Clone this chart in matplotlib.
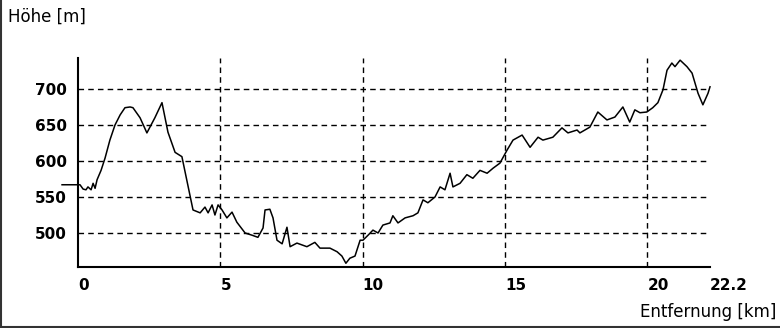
import matplotlib
matplotlib.use("Agg")
import matplotlib.pyplot as plt
from matplotlib.lines import Line2D

# elevation profile: distance [km], height [m]
dist_km = [-0.56, 0.07, 0.18, 0.28, 0.35, 0.46, 0.53, 0.60, 0.67, 0.81, 0.95,
           1.12, 1.30, 1.48, 1.65, 1.83, 1.93, 2.18, 2.42, 2.70, 2.95, 3.16,
           3.41, 3.65, 4.04, 4.29, 4.46, 4.57, 4.71, 4.81, 4.92, 5.06, 5.23,
           5.41, 5.58, 5.87, 6.11, 6.32, 6.50, 6.57, 6.74, 6.85, 6.99, 7.17,
           7.34, 7.45, 7.69, 8.04, 8.32, 8.50, 8.85, 9.10, 9.27, 9.41, 9.55,
           9.73, 9.91, 10.01, 10.19, 10.36, 10.54, 10.71, 10.96, 11.06, 11.24,
           11.49, 11.77, 11.94, 12.12, 12.29, 12.54, 12.72, 12.89, 13.07, 13.17,
           13.42, 13.66, 13.87, 14.12, 14.37, 14.58, 14.82, 15.07, 15.28, 15.60,
           15.88, 16.16, 16.33, 16.68, 17.00, 17.21, 17.53, 17.63, 17.98, 18.26,
           18.58, 18.86, 19.14, 19.38, 19.56, 19.74, 19.98, 20.19, 20.37, 20.55,
           20.69, 20.86, 20.97, 21.15, 21.39, 21.57, 21.78, 21.95, 22.13, 22.2]
height_m = [567, 567, 561, 560, 564, 560, 569, 562, 574, 587, 604,
            629, 650, 664, 674, 675, 674, 660, 639, 660, 681, 640,
            612, 606, 532, 528, 536, 528, 539, 525, 539, 532, 521,
            529, 515, 500, 497, 494, 507, 532, 533, 521, 490, 485,
            508, 481, 486, 481, 487, 479, 479, 474, 468, 458, 465,
            468, 490, 490, 497, 504, 500, 511, 514, 524, 514,
            521, 524, 528, 546, 542, 550, 564, 560, 583, 564,
            569, 581, 576, 587, 583, 590, 597, 615, 629, 636,
            619, 633, 629, 633, 646, 639, 643, 639, 647, 668,
            657, 661, 675, 654, 671, 667, 668, 674, 681, 699,
            726, 736, 731, 740, 731, 722, 694, 678, 694, 703]

x_ticks = [0, 5, 10, 15, 20, 22.2]
x_labels = ["0", "5", "10", "15", "20", "22.2"]
y_ticks = [500, 550, 600, 650, 700]

fig = plt.figure(figsize=(7.8, 3.28), dpi=100)
ax = fig.add_axes([78 / 780, 1 - 267 / 328, 632 / 780, 209 / 328])

ax.set_xlim(0, 22.2)
ax.set_ylim(452.8, 743)

for v in [5, 10, 15, 20]:
    ax.axvline(v, color="black", lw=1, ls=(0, (4, 3)), zorder=1)
for h in y_ticks:
    ax.axhline(h, color="black", lw=1, ls=(0, (4, 3)), zorder=1)

ax.plot(dist_km, height_m, color="black", lw=1.1, clip_on=False, zorder=3)

ax.spines["top"].set_visible(False)
ax.spines["right"].set_visible(False)
ax.spines["left"].set_linewidth(1.5)
ax.spines["bottom"].set_linewidth(1.5)

ax.set_xticks(x_ticks)
ax.set_xticklabels(x_labels, fontweight="bold", fontsize=11, ha="left")
ax.set_yticks(y_ticks)
ax.set_yticklabels([str(v) for v in y_ticks], fontweight="bold", fontsize=11)
ax.tick_params(length=0, pad=8)
ax.tick_params(axis="y", pad=8)

fig.text(8 / 780, 1 - 17 / 328, "Höhe [m]", fontsize=12, va="center", ha="left")
fig.text(776 / 780, 1 - 312 / 328, "Entfernung [km]", fontsize=12, va="center", ha="right")

# sunken frame on the left and bottom
fig.add_artist(Line2D([0.001, 0.001], [0, 1], color="#333333", lw=1.5, transform=fig.transFigure))
fig.add_artist(Line2D([0, 1], [0.004, 0.004], color="#333333", lw=1.5, transform=fig.transFigure))

fig.savefig("out.png", dpi=100)
